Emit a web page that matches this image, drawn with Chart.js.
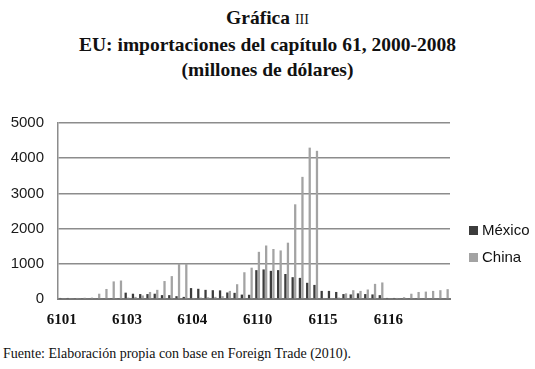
<!DOCTYPE html>
<html>
<head>
<meta charset="utf-8">
<script src="https://cdn.jsdelivr.net/npm/chart.js@4.4.0/dist/chart.umd.min.js"></script>
<style>
  body { margin: 0; width: 535px; height: 369px; position: relative; background: #fff; overflow: hidden; }
  #title { position: absolute; top: 5px; left: 0; width: 535px; text-align: center;
           font: bold 19.5px "Liberation Serif", serif; line-height: 25px; color: #111; }
  #title .sc { font-size: 14px; font-weight: normal; }
  #wrap { position: absolute; top: 100px; left: 0; width: 535px; height: 235px; }
  #legend { position: absolute; left: 469px; top: 0; font: 15px "Liberation Sans", sans-serif; color: #111; }
  #legend .item { position: absolute; left: 0; white-space: nowrap; line-height: 18px; }
  #legend .box { display: inline-block; width: 9px; height: 9px; margin-right: 4px; vertical-align: 0px; }
  #source { position: absolute; left: 3px; top: 345px; font: 14px "Liberation Serif", serif; line-height: 18px; color: #111; }
</style>
</head>
<body>
<div id="title">Gráfica <span class="sc">III</span><br>EU: importaciones del capítulo 61, 2000-2008<br>(millones de dólares)</div>
<div id="wrap"><canvas id="chart" width="535" height="235"></canvas></div>
<div id="legend"></div>
<div id="source">Fuente: Elaboración propia con base en Foreign Trade (2010).</div>
<script>
// chapter 61 codes, each with years 2000-2008
const codes = ['6101', '6103', '6104', '6110', '6115', '6116'];
const years = ['2000', '2001', '2002', '2003', '2004', '2005', '2006', '2007', '2008'];

const mexico = [
  30, 30, 25, 25, 20, 20, 20, 15, 15,          // 6101
  180, 150, 140, 140, 150, 110, 110, 80, 60,   // 6103
  310, 290, 260, 250, 245, 185, 175, 125, 120, // 6104
  820, 840, 800, 820, 710, 620, 600, 460, 400, // 6110
  230, 230, 200, 140, 130, 160, 140, 130, 110, // 6115
  30, 30, 25, 25, 25, 20, 20, 20, 20           // 6116
];
const china = [
  20, 25, 30, 35, 40, 150, 285, 500, 525,              // 6101
  40, 60, 100, 200, 260, 510, 650, 1000, 1000,         // 6103
  30, 40, 50, 60, 80, 230, 420, 760, 890,              // 6104
  1340, 1520, 1420, 1380, 1600, 2690, 3470, 4300, 4210, // 6110
  30, 30, 40, 160, 250, 230, 270, 430, 470,            // 6115
  20, 30, 50, 150, 200, 210, 230, 250, 280             // 6116
];

const labels = [];
codes.forEach(c => years.forEach(y => labels.push(c + ' ' + y)));

const chart = new Chart(document.getElementById('chart').getContext('2d'), {
  type: 'bar',
  data: {
    labels: labels,
    datasets: [
      { label: 'México', data: mexico, backgroundColor: '#3c3c3c', barPercentage: 0.9, categoryPercentage: 0.7 },
      { label: 'China', data: china, backgroundColor: '#a3a3a3', barPercentage: 0.9, categoryPercentage: 0.7 }
    ]
  },
  options: {
    responsive: false,
    animation: false,
    devicePixelRatio: 1,
    layout: { padding: { top: 13, right: 85, bottom: 6, left: 0 } },
    plugins: { legend: { display: false }, tooltip: { enabled: false } },
    scales: {
      x: {
        grid: { display: false, drawTicks: false },
        border: { display: true, color: '#777', width: 2 },
        ticks: {
          autoSkip: false, maxRotation: 0, padding: 12, color: '#111',
          font: { family: 'Liberation Serif', weight: 'bold', size: 15 },
          callback: (v, i) => i % years.length === 0 ? codes[i / years.length] : ''
        },
        afterFit: s => { s.height = 30; }
      },
      y: {
        min: 0, max: 5000,
        grid: { color: '#8c8c8c', lineWidth: 1.5, drawTicks: false },
        border: { display: true, color: '#8c8c8c', width: 1.5 },
        ticks: {
          stepSize: 1000, padding: 14, color: '#1a1a1a',
          font: { family: 'Liberation Sans', size: 15 },
          callback: v => String(v)
        },
        afterFit: s => { s.width = 58; }
      }
    }
  }
});

// legend built from the chart's datasets
const legendTops = [221, 248];
const legend = document.getElementById('legend');
chart.data.datasets.forEach((ds, i) => {
  const item = document.createElement('div');
  item.className = 'item';
  item.style.top = legendTops[i] + 'px';
  item.innerHTML = '<span class="box" style="background:' + ds.backgroundColor + '"></span>' + ds.label;
  legend.appendChild(item);
});
</script>
</body>
</html>
